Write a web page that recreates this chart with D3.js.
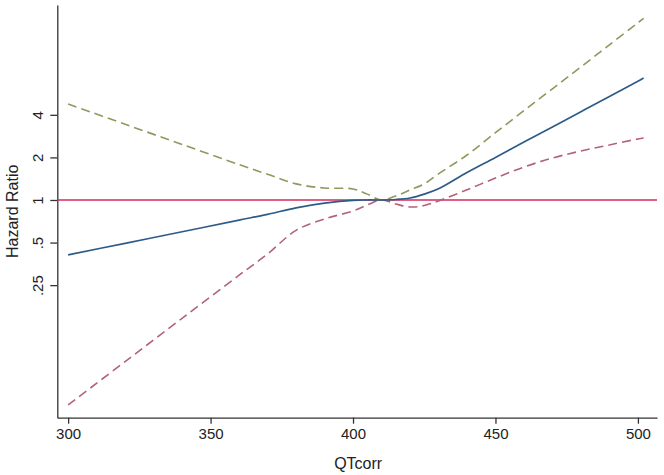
<!DOCTYPE html>
<html>
<script src="https://d3js.org/d3.v7.min.js"></script>
<style>
    body { margin: 0; background: #fff; }
    svg text { font-family: "Liberation Sans", Arial, sans-serif; fill: #222; }
    .tick line, .domain { stroke: #333; stroke-width: 1.3px; }
</style>
<body></body>
<script>
    // QTcorr values and hazard ratios
    const qt = [300, 320, 340, 360, 370, 380, 390, 400, 405, 410, 415, 420, 425, 430, 440, 450, 460, 470, 480, 490, 500, 502];
    const hr = [0.409, 0.494, 0.596, 0.721, 0.792, 0.880, 0.950, 0.995, 1.0, 1.0, 1.008, 1.033, 1.10, 1.20, 1.565, 2.0, 2.57, 3.28, 4.21, 5.40, 6.91, 7.27];
    const upper = [4.77, 3.43, 2.47, 1.78, 1.52, 1.30, 1.215, 1.196, 1.10, 1.0, 1.067, 1.177, 1.30, 1.53, 2.08, 2.99, 4.28, 6.11, 8.73, 12.5, 17.9, 19.2];
    const lower = [0.0356, 0.072, 0.1457, 0.294, 0.415, 0.610, 0.734, 0.836, 0.922, 1.0, 0.937, 0.892, 0.914, 0.984, 1.18, 1.43, 1.71, 1.98, 2.22, 2.45, 2.70, 2.74];
    const xTicks = [300, 350, 400, 450, 500];
    const yTicks = [0.25, 0.5, 1, 2, 4];
    const yTickLabels = [".25", ".5", "1", "2", "4"];

    const width = 664, height = 475;
    const svg = d3.select("body").append("svg").attr("width", width).attr("height", height);

    const x = d3.scaleLinear().domain([296.2, 506.7]).range([57.3, 657]);
    const y = d3.scaleLog().base(2).domain([0.0289, 23.9]).range([417.7, 5]);

    const xAxis = svg.append("g")
        .attr("transform", `translate(0,${y.range()[0]})`)
        .call(d3.axisBottom(x).tickValues(xTicks).tickSize(6).tickSizeOuter(0).tickPadding(5));
    xAxis.selectAll(".tick text").attr("font-size", 15).attr("fill", "#222");

    const yAxis = svg.append("g")
        .attr("transform", `translate(${x.range()[0]},0)`)
        .call(d3.axisLeft(y).tickValues(yTicks).tickFormat((d, i) => yTickLabels[i]).tickSize(7).tickSizeOuter(0));
    yAxis.selectAll(".tick text")
        .attr("font-size", 15)
        .attr("fill", "#222")
        .attr("text-anchor", "middle")
        .attr("transform", "rotate(-90)")
        .attr("x", 0)
        .attr("y", -14)
        .attr("dy", 0);

    svg.append("text")
        .attr("x", (x.range()[0] + x.range()[1]) / 2 + 1)
        .attr("y", 469)
        .attr("text-anchor", "middle")
        .attr("font-size", 16)
        .text("QTcorr");

    svg.append("text")
        .attr("transform", `translate(18,${(y.range()[0] + y.range()[1]) / 2}) rotate(-90)`)
        .attr("text-anchor", "middle")
        .attr("font-size", 16)
        .text("Hazard Ratio");

    // reference line at HR = 1
    svg.append("line")
        .attr("x1", x.range()[0]).attr("x2", x.range()[1])
        .attr("y1", y(1)).attr("y2", y(1))
        .attr("stroke", "#d42a5c")
        .attr("stroke-width", 1.6);

    const line = vals => d3.line()
        .x((d, i) => x(qt[i]))
        .y(d => y(d))
        .curve(d3.curveCatmullRom.alpha(0.5))(vals);

    svg.append("path").attr("d", line(upper))
        .attr("fill", "none").attr("stroke", "#8c9a5e")
        .attr("stroke-width", 1.6).attr("stroke-dasharray", "9,5");
    svg.append("path").attr("d", line(lower))
        .attr("fill", "none").attr("stroke", "#b3627b")
        .attr("stroke-width", 1.6).attr("stroke-dasharray", "9,5");
    svg.append("path").attr("d", line(hr))
        .attr("fill", "none").attr("stroke", "#2d5b88")
        .attr("stroke-width", 1.7);
</script>
</html>
